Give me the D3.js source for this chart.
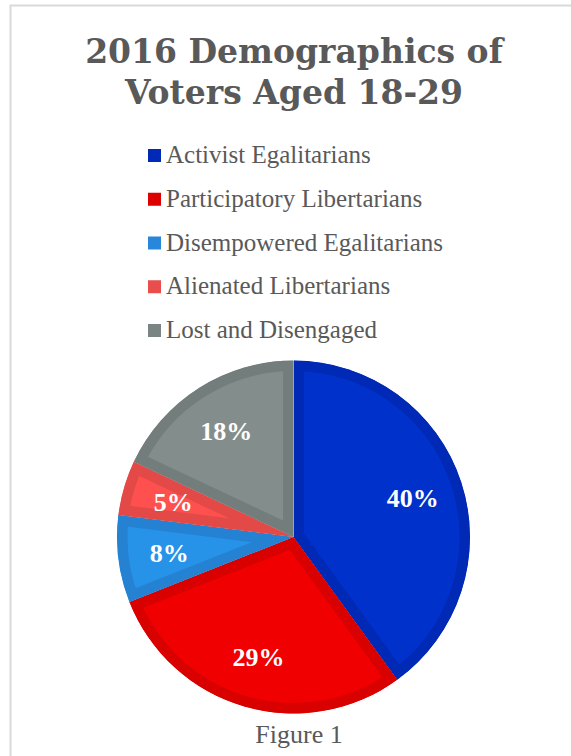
<!DOCTYPE html>
<html>
<head>
<meta charset="utf-8">
<script src="https://cdn.jsdelivr.net/npm/d3@7"></script>
<style>
  html, body { margin: 0; padding: 0; background: #ffffff; }
  svg { display: block; }
</style>
</head>
<body>
<svg id="chart" width="571" height="756"></svg>
<script>
// ---- data ----
const titleLines = ["2016 Demographics of", "Voters Aged 18-29"];
const categories = ["Activist Egalitarians", "Participatory Libertarians", "Disempowered Egalitarians", "Alienated Libertarians", "Lost and Disengaged"];
const values = [40, 29, 8, 5, 18];
const caption = "Figure 1";

// ---- styles ----
const innerColors = ["#0031CB", "#F00000", "#2692E8", "#FF5050", "#838E8C"];
const bandColors  = ["#0029B6", "#D90000", "#2582D3", "#E34A47", "#737D7B"];
const legendColors = ["#0029B6", "#DD0000", "#2887DA", "#E84F4C", "#7A8482"];
const textColor = "#595959";
const serif = "'Liberation Serif', 'DejaVu Serif', serif";
const titleFont = "'DejaVu Serif', 'Liberation Serif', serif";

const svg = d3.select("#chart");

// frame lines
svg.append("line").attr("x1", 10.5).attr("x2", 10.5).attr("y1", 5).attr("y2", 756)
  .attr("stroke", "#d9d9d9").attr("stroke-width", 2);
svg.append("line").attr("x1", 10).attr("x2", 571).attr("y1", 5.5).attr("y2", 5.5)
  .attr("stroke", "#d9d9d9").attr("stroke-width", 2);

// title
svg.append("g").selectAll("text").data(titleLines).join("text")
  .attr("x", 294)
  .attr("y", (d, i) => 63 + i * 40.5)
  .attr("text-anchor", "middle")
  .attr("font-family", titleFont)
  .attr("font-weight", "bold")
  .attr("font-size", 33)
  .attr("fill", textColor)
  .text(d => d);

// legend
const legendY = d3.scalePoint().domain(categories).range([163, 338]);
const lg = svg.append("g").selectAll("g").data(categories).join("g")
  .attr("transform", d => `translate(148,${legendY(d)})`);
lg.append("rect").attr("x", 0).attr("y", -14).attr("width", 13).attr("height", 13)
  .attr("fill", (d, i) => legendColors[i]);
lg.append("text").attr("x", 18).attr("y", 0)
  .attr("font-family", serif).attr("font-size", 25).attr("fill", textColor)
  .text(d => d);

// pie
const cx = 293.5, cy = 537, r = 176.5;
const pie = d3.pie().sort(null).value(d => d)(values);
const arc = d3.arc().innerRadius(0).outerRadius(r);
const labelArc = d3.arc().innerRadius(r * 0.71).outerRadius(r * 0.71);

const defs = svg.append("defs");
pie.forEach((d, i) => {
  defs.append("clipPath").attr("id", "clip" + i)
    .append("path").attr("d", arc(d));
});

const pg = svg.append("g").attr("transform", `translate(${cx},${cy})`);
pg.selectAll("path").data(pie).join("path")
  .attr("d", arc)
  .attr("fill", (d, i) => innerColors[i])
  .attr("stroke", (d, i) => bandColors[i])
  .attr("stroke-width", 21)
  .attr("stroke-linejoin", "miter")
  .attr("clip-path", (d, i) => `url(#clip${i})`);

// labels
pg.append("g").selectAll("text").data(pie).join("text")
  .attr("transform", d => `translate(${labelArc.centroid(d)})`)
  .attr("text-anchor", "middle")
  .attr("dy", "0.35em")
  .attr("font-family", serif)
  .attr("font-weight", "bold")
  .attr("font-size", 26)
  .attr("fill", "#ffffff")
  .text(d => d.data + "%");

// caption
svg.append("text").attr("x", 299).attr("y", 743)
  .attr("text-anchor", "middle")
  .attr("font-family", serif).attr("font-size", 26).attr("fill", textColor)
  .text(caption);
</script>
</body>
</html>
